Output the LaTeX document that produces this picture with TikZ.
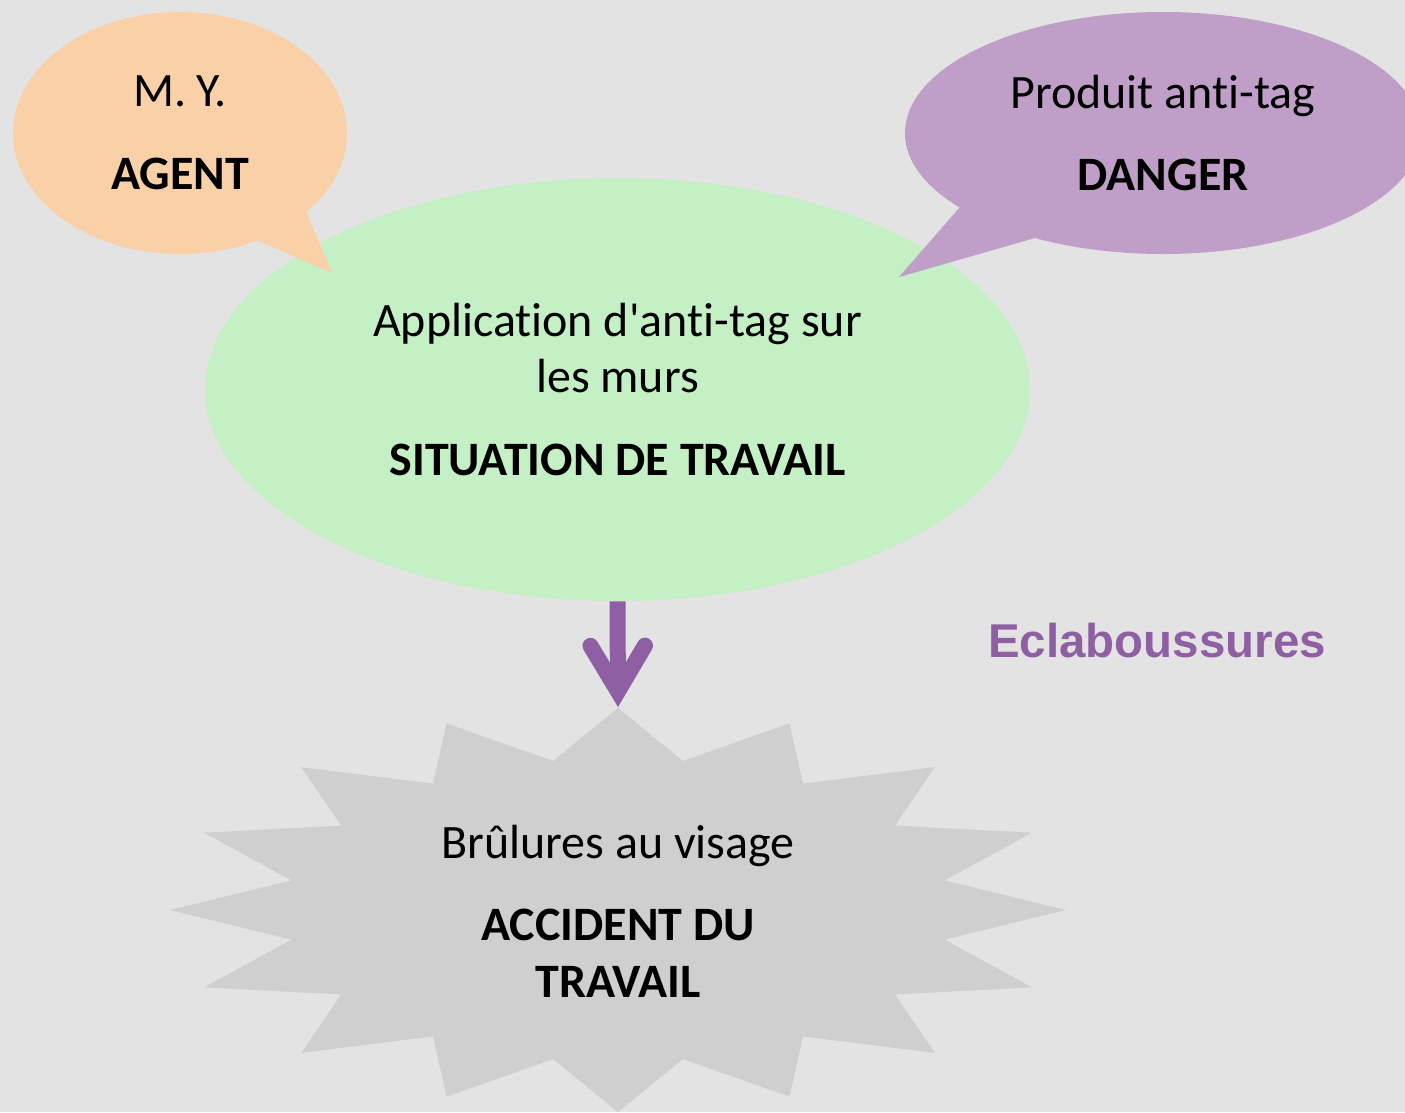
\documentclass[tikz,border=0pt]{standalone}
\usepackage{fontspec}
\setmainfont{Carlito}[Ligatures=NoCommon]
\newfontfamily\arialfont{Liberation Sans}
\usepackage{xcolor}
\usetikzlibrary{arrows.meta,shapes.geometric}
\definecolor{bgc}{HTML}{E3E3E3}
\definecolor{agentc}{HTML}{FAD0A8}
\definecolor{dangerc}{HTML}{BF9FC7}
\definecolor{sitc}{HTML}{C5EFC5}
\definecolor{accc}{HTML}{CFCFCF}
\definecolor{flowc}{HTML}{8F5FA3}
\tikzset{
  bub/.style={ellipse,inner sep=0pt,align=center,font=\fontsize{27.3}{32}\selectfont},
  txt/.style={inner sep=0pt,align=center,font=\fontsize{27.3}{32}\selectfont},
  splash/.style={inner sep=0pt,text=flowc,font=\arialfont\bfseries\fontsize{27}{32}\selectfont},
  flow/.style={flowc,line width=9.1pt,
    -{Straight Barb[length=26pt,width=31pt,line cap=round,line join=miter]}},
}

\begin{document}
\begin{tikzpicture}[x=0.2mm,y=-0.2mm]
  \clip (0,0) rectangle (1405,1112);
  \fill[bgc] (0,0) rectangle (1405,1112);
  % situation
  \node[bub,fill=sitc,minimum width=165mm,minimum height=84.6mm] (sit) at (617.5,389.5)
    {Application d\textquotesingle anti-tag sur\\les murs\\[15pt]\textbf{SITUATION DE TRAVAIL}};
  % accident burst
  \fill[accc,shift={(618,910)}] (90:448 and 202)
    \foreach \a in {0,22.5,...,337.5}{ -- (90+\a:448 and 202) -- (101.25+\a:333 and 152)} -- cycle;
  \node[txt] (acc) at (618,911) {Brûlures au visage\\[15pt]\textbf{ACCIDENT DU}\\\textbf{TRAVAIL}};
  \coordinate (acctop) at (618,707);
  \draw[flow] (sit.south) -- (acctop);
  % agent
  \node[bub,fill=agentc,minimum width=66.8mm,minimum height=48.4mm] (agent) at (180,133)
    {M. Y.\\[15pt]\textbf{AGENT}};
  \fill[agentc] (306,211) -- (332,273) -- (256,240) -- cycle;
  % danger
  \node[bub,fill=dangerc,minimum width=103.2mm,minimum height=48.4mm] (danger) at (1163,133)
    {Produit anti-tag\\[15pt]\textbf{DANGER}};
  \fill[dangerc] (960,207) -- (899,277) -- (1035,238) -- cycle;
  \node[splash] (spl) at (1157,641) {Eclaboussures};
\end{tikzpicture}
\end{document}
